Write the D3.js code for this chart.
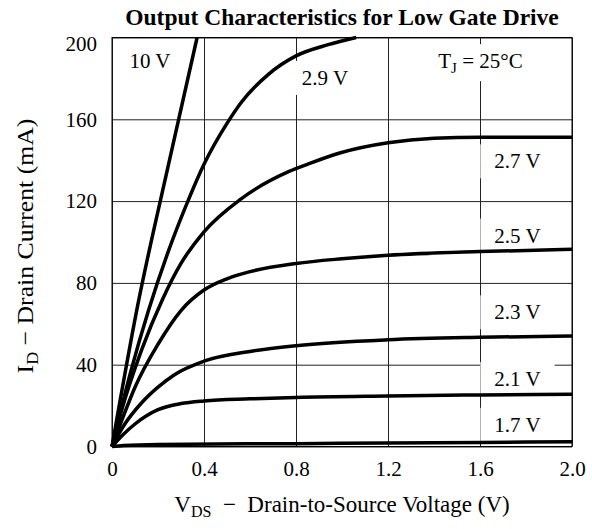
<!DOCTYPE html>
<html>
<head>
<meta charset="utf-8">
<script src="https://cdn.jsdelivr.net/npm/d3@7"></script>
<style>
  body { margin: 0; background: #fff; }
  svg { display: block; }
  text { font-family: "Liberation Serif", "Times New Roman", serif; fill: #000; }
</style>
</head>
<body>
<div class="chart"></div>
<script>
// drain current (mA) vs drain-source voltage (V)
const curve10V = [[0, 0], [0.11, 68], [0.25, 140], [0.37, 200]];
const curve29V = [[0, 0], [0.08, 36], [0.16, 67], [0.25, 97], [0.33, 120], [0.4, 138], [0.5, 158],
                  [0.56, 168], [0.68, 182], [0.8, 191], [0.94, 196.5], [1.062, 200]];
const curve27V = [[0, 0], [0.04, 17], [0.128, 47], [0.22, 72], [0.3, 89.5], [0.4, 105], [0.56, 121],
                  [0.77, 134.5], [0.85, 138], [0.99, 143.5], [1.2, 148.5], [1.4, 150.7], [1.6, 151.2], [2.0, 151.2]];
const curve25V = [[0, 0], [0.05, 15], [0.1, 29], [0.2, 50], [0.3, 66.5], [0.4, 76.5], [0.5, 82],
                  [0.6, 85.5], [0.8, 89.5], [1.0, 91.8], [1.2, 93.5], [1.6, 95.3], [2.0, 96.4]];
const curve23V = [[0, 0], [0.05, 10], [0.13, 21.5], [0.2, 29], [0.27, 35], [0.4, 41.7], [0.6, 46.5],
                  [0.8, 49.3], [1.2, 52.2], [1.6, 53.4], [2.0, 54]];
const curve21V = [[0, 0], [0.05, 6], [0.1, 11], [0.15, 15], [0.2, 18], [0.3, 21], [0.4, 22.3],
                  [0.6, 23.3], [0.8, 24], [1.2, 24.7], [1.6, 25.2], [2.0, 25.5]];
const curve17V = [[0, 0], [0.05, 0.5], [0.2, 1], [0.8, 1.4], [1.2, 1.7], [1.6, 2.0], [2.0, 2.3]];

const curves = [curve10V, curve29V, curve27V, curve25V, curve23V, curve21V, curve17V];
const curveNames = ["10 V", "2.9 V", "2.7 V", "2.5 V", "2.3 V", "2.1 V", "1.7 V"];

const xTicks = [0, 0.4, 0.8, 1.2, 1.6, 2.0];
const yTicks = [0, 40, 80, 120, 160, 200];

// where each label sits, in axis units (centre V, baseline mA)
const labelAt = [[0.165, 185], [0.926, 176.8], [1.763, 136], [1.763, 99.7], [1.763, 62.2], [1.763, 29.6], [1.763, 7.2]];
const tempAt = [1.602, 185];

const serif = "'Liberation Serif', 'Times New Roman', serif";
const width = 592, height = 529;
const margin = {top: 37.5, right: 20, bottom: 82.5, left: 112};
const plotW = width - margin.left - margin.right;
const plotH = height - margin.top - margin.bottom;

const svg = d3.select(".chart").append("svg")
    .attr("width", width)
    .attr("height", height)
    .attr("font-family", serif);

const x = d3.scaleLinear().domain([0, 2]).range([margin.left, margin.left + plotW]);
const y = d3.scaleLinear().domain([0, 200]).range([margin.top + plotH, margin.top]);

// grid + tick labels
const yAxis = svg.append("g")
    .attr("transform", `translate(${margin.left},0)`)
    .call(d3.axisLeft(y).tickValues(yTicks).tickSize(-plotW).tickPadding(15).tickFormat(d3.format("d")));
const xAxis = svg.append("g")
    .attr("transform", `translate(0,${margin.top + plotH})`)
    .call(d3.axisBottom(x).tickValues(xTicks).tickSize(-plotH).tickPadding(15)
        .tickFormat(d => d === 0 ? "0" : d.toFixed(1)));

[xAxis, yAxis].forEach(a => {
    a.attr("font-family", serif).attr("font-size", 21);
    a.select(".domain").remove();
    a.selectAll(".tick line").attr("stroke", "#222").attr("stroke-width", 1);
});
yAxis.selectAll(".tick text").filter(d => d === 200).attr("dy", "0.62em");

svg.append("rect")
    .attr("x", margin.left).attr("y", margin.top)
    .attr("width", plotW).attr("height", plotH)
    .attr("fill", "none").attr("stroke", "#000").attr("stroke-width", 1);

// labels: white boxes over the grid, curves on top, then the text
const boxLayer = svg.append("g");
const curveLayer = svg.append("g");
const textLayer = svg.append("g");

const line = d3.line()
    .x(d => x(d[0]))
    .y(d => y(d[1]))
    .curve(d3.curveMonotoneX);

curveLayer.selectAll("path")
    .data(curves)
    .join("path")
    .attr("d", line)
    .attr("fill", "none")
    .attr("stroke", "#000")
    .attr("stroke-width", 3.5);

textLayer.selectAll("text.vg")
    .data(curveNames)
    .join("text")
    .attr("class", "vg")
    .attr("x", (d, i) => x(labelAt[i][0]))
    .attr("y", (d, i) => y(labelAt[i][1]))
    .attr("text-anchor", "middle")
    .attr("font-size", 21)
    .text(d => d);

const tj = textLayer.append("text")
    .attr("x", x(tempAt[0]))
    .attr("y", y(tempAt[1]))
    .attr("text-anchor", "middle")
    .attr("font-size", 21);
tj.append("tspan").text("T");
tj.append("tspan").attr("font-size", 15).attr("dy", 5).text("J");
tj.append("tspan").attr("dy", -5).text(" = 25\u00b0C");

// white box behind every label except the first one
textLayer.selectAll("text").each(function (d, i) {
    if (i === 0) return;
    const b = this.getBBox();
    boxLayer.append("rect")
        .attr("x", b.x - 14).attr("y", b.y - 5)
        .attr("width", b.width + 28).attr("height", b.height + 10)
        .attr("fill", "#fff");
});

// titles
svg.append("text")
    .attr("x", margin.left + plotW / 2)
    .attr("y", 25)
    .attr("text-anchor", "middle")
    .attr("font-size", 23.5)
    .attr("font-weight", "bold")
    .text("Output Characteristics for Low Gate Drive");

const xTitle = svg.append("text")
    .attr("x", margin.left + plotW / 2)
    .attr("y", 512)
    .attr("text-anchor", "middle")
    .attr("font-size", 23);
xTitle.append("tspan").text("V");
xTitle.append("tspan").attr("font-size", 16).attr("dy", 5).text("DS");
xTitle.append("tspan").attr("dy", -5).text("\u2002\u2212\u2002Drain-to-Source Voltage (V)");

const yTitle = svg.append("text")
    .attr("transform", `translate(33,246) rotate(-90) scale(1.12,1)`)
    .attr("text-anchor", "middle")
    .attr("font-size", 23);
yTitle.append("tspan").text("I");
yTitle.append("tspan").attr("font-size", 16).attr("dy", 5).text("D");
yTitle.append("tspan").attr("dy", -5).text(" \u2212 Drain Current (mA)");
</script>
</body>
</html>
